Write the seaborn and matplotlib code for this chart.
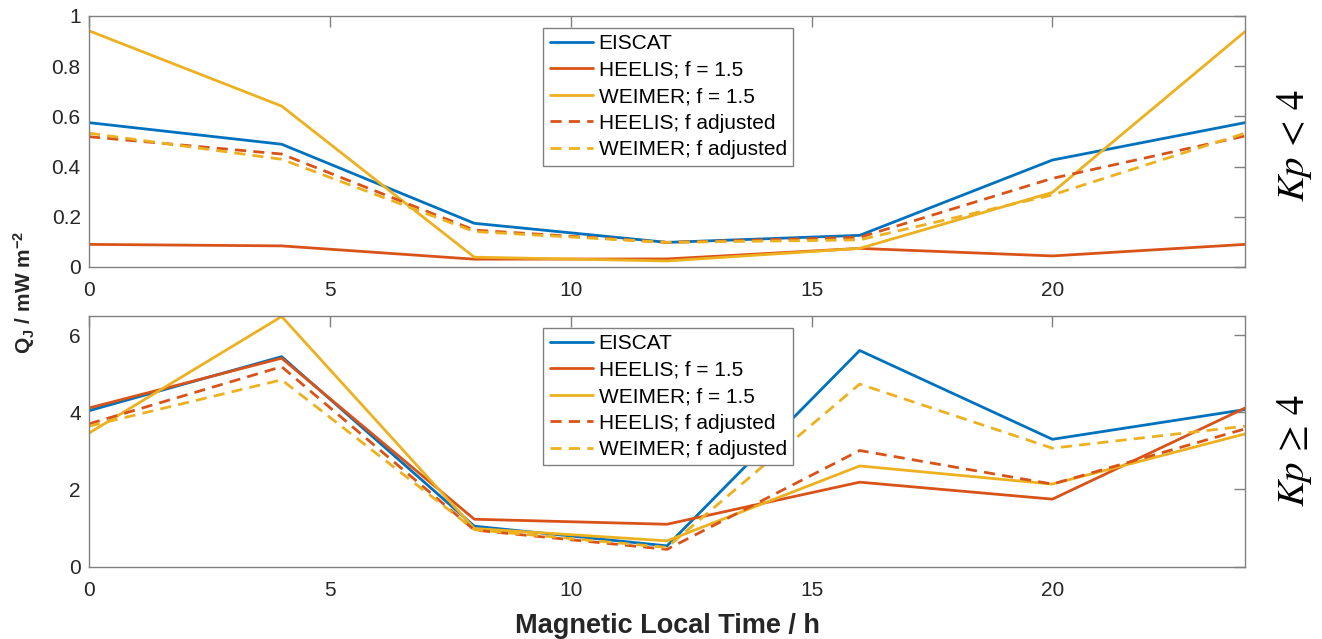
import matplotlib
matplotlib.use("Agg")
import matplotlib.pyplot as plt
import seaborn as sns
import pandas as pd

# ---------------- data ----------------
mlt = [0, 4, 8, 12, 16, 20, 24]
series_labels = ["EISCAT", "HEELIS; f = 1.5", "WEIMER; f = 1.5",
                 "HEELIS; f adjusted", "WEIMER; f adjusted"]

low_eiscat = [0.575, 0.489, 0.174, 0.098, 0.126, 0.426, 0.575]
low_heelis = [0.090, 0.084, 0.031, 0.032, 0.074, 0.044, 0.090]
low_weimer = [0.941, 0.641, 0.039, 0.024, 0.074, 0.297, 0.938]
low_heelis_adj = [0.519, 0.450, 0.147, 0.098, 0.118, 0.353, 0.522]
low_weimer_adj = [0.533, 0.429, 0.141, 0.098, 0.108, 0.287, 0.533]

high_eiscat = [4.04, 5.44, 1.05, 0.54, 5.60, 3.30, 4.07]
high_heelis = [4.11, 5.40, 1.23, 1.10, 2.19, 1.75, 4.11]
high_weimer = [3.46, 6.48, 0.99, 0.67, 2.61, 2.14, 3.44]
high_heelis_adj = [3.70, 5.18, 0.95, 0.45, 3.01, 2.14, 3.57]
high_weimer_adj = [3.64, 4.84, 0.96, 0.50, 4.73, 3.07, 3.64]

top_yticks = [0, 0.2, 0.4, 0.6, 0.8, 1]
top_yticklabels = ["0", "0.2", "0.4", "0.6", "0.8", "1"]
bot_yticks = [0, 2, 4, 6]
xticks = [0, 5, 10, 15, 20]

# ---------------- style ----------------
sns.set_style("white")
plt.rcParams["font.family"] = ["Liberation Sans", "DejaVu Sans"]
plt.rcParams["mathtext.fontset"] = "custom"
plt.rcParams["mathtext.rm"] = "Liberation Sans:bold"
plt.rcParams["mathtext.bf"] = "Liberation Sans:bold"
plt.rcParams["mathtext.it"] = "Liberation Sans:bold"

colors = ["#0072BD", "#D95319", "#EDB120", "#D95319", "#EDB120"]
styles = ["-", "-", "-", (0, (4, 2.6)), (0, (4, 2.6))]
spine_col = "#808080"
text_col = "#262626"

fig = plt.figure(figsize=(13.22, 6.39), dpi=100)
ax1 = fig.add_axes([0.0673, 0.5822, 0.8745, 0.3928])
ax2 = fig.add_axes([0.0673, 0.1131, 0.8745, 0.3928])

panels = [
    (ax1, [low_eiscat, low_heelis, low_weimer, low_heelis_adj, low_weimer_adj],
     (0, 1), top_yticks, top_yticklabels),
    (ax2, [high_eiscat, high_heelis, high_weimer, high_heelis_adj, high_weimer_adj],
     (0, 6.5), bot_yticks, [str(t) for t in bot_yticks]),
]

for ax, data, ylim, yt, ytl in panels:
    for vals, lab, c, ls in zip(data, series_labels, colors, styles):
        df = pd.DataFrame({"MLT": mlt, "Q": vals})
        sns.lineplot(data=df, x="MLT", y="Q", ax=ax, color=c, linestyle=ls,
                     linewidth=2.0, label=lab, sort=False)
    ax.set_xlim(0, 24)
    ax.set_ylim(*ylim)
    ax.set_xticks(xticks)
    ax.set_xticklabels([str(t) for t in xticks])
    ax.set_yticks(yt)
    ax.set_yticklabels(ytl)
    ax.set_xlabel("")
    ax.set_ylabel("")
    ax.tick_params(direction="in", length=8, width=1, color=spine_col,
                   top=True, right=True, labelsize=15, labelcolor=text_col)
    ax.tick_params(axis="x", pad=10)
    ax.tick_params(axis="y", pad=6)
    for sp in ax.spines.values():
        sp.set_visible(True)
        sp.set_color(spine_col)
        sp.set_linewidth(1.0)
    leg = ax.legend(loc="upper left", bbox_to_anchor=(0.393, 0.952),
                    borderaxespad=0, fontsize=15, frameon=True, fancybox=False,
                    framealpha=1, edgecolor=spine_col, handlelength=2.1,
                    handletextpad=0.25, labelspacing=0.36, borderpad=0.3)
    leg.get_frame().set_linewidth(1.0)
    for t in leg.get_texts():
        t.set_color("black")

fig.text(0.505, 0.0094, "Magnetic Local Time / h", ha="center", va="baseline",
         fontsize=19.5, fontweight="bold", color=text_col)
fig.text(0.018, 0.543, r"Q$_{\mathbf{J}}$ / mW m$^{\mathbf{-2}}$", rotation=90,
         ha="center", va="center", fontsize=15, fontweight="bold", color=text_col)

fig.text(0.979, 0.772, r"$Kp\,<\,4$", rotation=90, ha="center", va="center",
         fontsize=28, color="black", math_fontfamily="stix")
fig.text(0.979, 0.295, r"$Kp\,\geq\,4$", rotation=90, ha="center", va="center",
         fontsize=28, color="black", math_fontfamily="stix")

fig.savefig("out.png", dpi=100, facecolor="white")
